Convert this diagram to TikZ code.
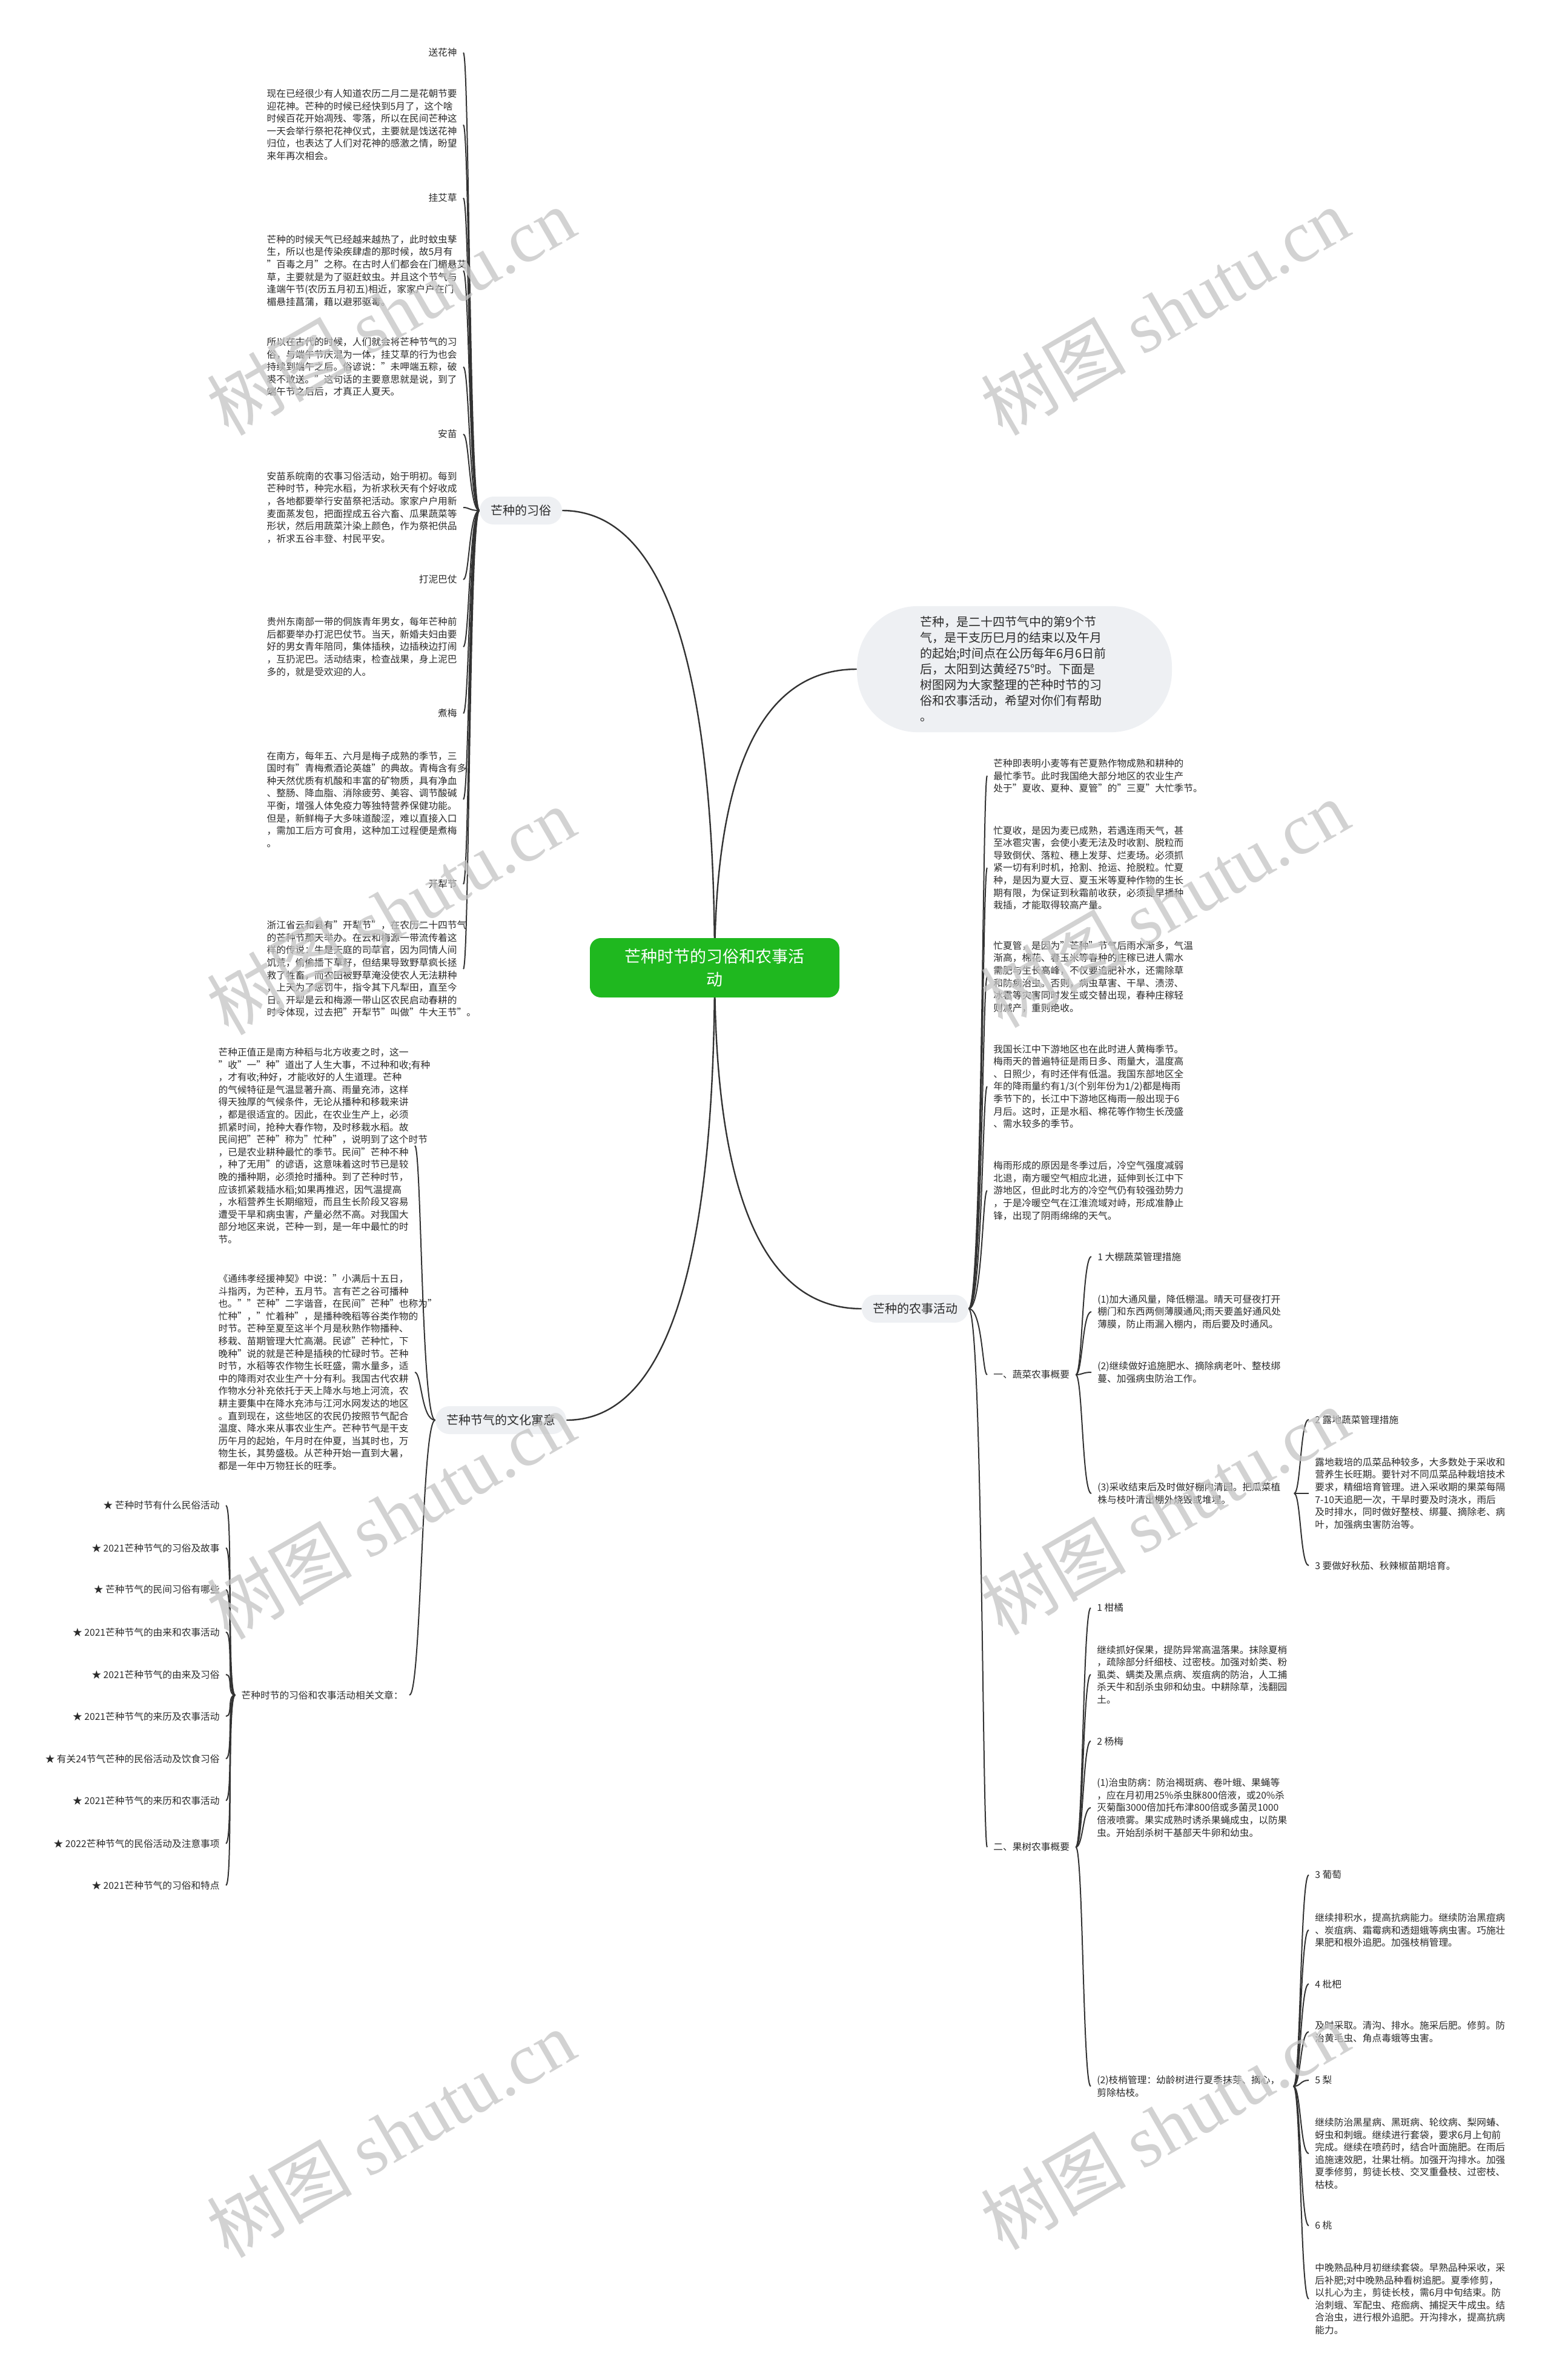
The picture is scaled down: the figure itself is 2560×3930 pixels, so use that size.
\documentclass[tikz,border=0pt]{standalone}
\usepackage{fontspec}
\setmainfont{Noto Sans CJK SC}
\newfontfamily\wmserif{Liberation Serif}
\definecolor{linec}{HTML}{333333}
\definecolor{textc}{HTML}{2B2B2B}
\definecolor{pillc}{HTML}{EEF0F3}
\definecolor{rootc}{HTML}{1FB81F}
\definecolor{wmc}{HTML}{C4C4C4}
\pgfdeclarelayer{bg}
\pgfsetlayers{bg,main}
\newcommand\fs{\fontsize{7.85pt}{10.3pt}\selectfont}
\newcommand\cn[4]{\draw[conn] (#1) .. controls +(#3,0) and +(#4,0) .. (#2);}
\tikzset{
  conn/.style={draw=linec, line width=1pt},
  rootconn/.style={draw=linec, line width=1.2pt},
  body/.style={font=\fs, text=textc, align=left, inner xsep=5pt, inner ysep=0pt, text width=157pt},
  lab/.style={font=\fs, text=textc, align=left, inner xsep=5pt, inner ysep=0pt},
  pill/.style={fill=pillc, rounded corners=11.5pt, minimum height=23pt, inner xsep=9pt, inner ysep=0pt, font=\fontsize{10pt}{12pt}\selectfont, text=textc},
  wm/.style={text=wmc, opacity=0.75, rotate=30, inner sep=0pt, font=\fontsize{60pt}{60pt}\selectfont},
}
\begin{document}
\begin{tikzpicture}[x=0.5pt,y=-0.5pt]
\useasboundingbox (0,0) rectangle (2560,3930);

% root
\node[fill=rootc, rounded corners=9pt, minimum width=206pt, minimum height=49pt, text=white, align=center, inner sep=0pt, font=\fontsize{13.5pt}{19pt}\selectfont] (root) at (1180,1598) {芒种时节的习俗和农事活\\动};

% intro bubble
\node[fill=pillc, rounded corners=50pt, text width=156pt, inner xsep=52pt, inner ysep=8.5pt, align=left, text=textc, font=\fontsize{10pt}{13pt}\selectfont] (bub) at (1675,1105) {芒种，是二十四节气中的第9个节\\气，是干支历巳月的结束以及午月\\的起始;时间点在公历每年6月6日前\\后，太阳到达黄经75°时。下面是\\树图网为大家整理的芒种时节的习\\俗和农事活动，希望对你们有帮助\\。};

% ===== left: 芒种的习俗 =====
\node[pill] (m1) at (860,843) {芒种的习俗};
\node[lab, anchor=east] (l1) at (765,87) {送花神};
\node[body, anchor=east] (t1) at (765,206) {现在已经很少有人知道农历二月二是花朝节要\\迎花神。芒种的时候已经快到5月了，这个啥\\时候百花开始凋残、零落，所以在民间芒种这\\一天会举行祭祀花神仪式，主要就是饯送花神\\归位，也表达了人们对花神的感激之情，盼望\\来年再次相会。};
\node[lab, anchor=east] (l2) at (765,327) {挂艾草};
\node[body, anchor=east] (t2) at (765,447) {芒种的时候天气已经越来越热了，此时蚊虫孳\\生，所以也是传染疾肆虐的那时候，故5月有\\"百毒之月"之称。在古时人们都会在门楣悬艾\\草，主要就是为了驱赶蚊虫。并且这个节气与\\逢端午节(农历五月初五)相近，家家户户在门\\楣悬挂菖蒲，藉以避邪驱毒。};
\node[body, anchor=east] (t3) at (765,606) {所以在古代的时候，人们就会将芒种节气的习\\俗，与端午节庆混为一体，挂艾草的行为也会\\持续到端午之后。俗谚说："未呷端五粽，破\\裘不敢送。"这句话的主要意思就是说，到了\\端午节之后后，才真正人夏天。};
\node[lab, anchor=east] (l3) at (765,717) {安苗};
\node[body, anchor=east] (t4) at (765,838) {安苗系皖南的农事习俗活动，始于明初。每到\\芒种时节，种完水稻，为祈求秋天有个好收成\\，各地都要举行安苗祭祀活动。家家户户用新\\麦面蒸发包，把面捏成五谷六畜、瓜果蔬菜等\\形状，然后用蔬菜汁染上颜色，作为祭祀供品\\，祈求五谷丰登、村民平安。};
\node[lab, anchor=east] (l4) at (765,957) {打泥巴仗};
\node[body, anchor=east] (t5) at (765,1068) {贵州东南部一带的侗族青年男女，每年芒种前\\后都要举办打泥巴仗节。当天，新婚夫妇由要\\好的男女青年陪同，集体插秧，边插秧边打闹\\，互扔泥巴。活动结束，检查战果，身上泥巴\\多的，就是受欢迎的人。};
\node[lab, anchor=east] (l5) at (765,1178) {煮梅};
\node[body, anchor=east] (t6) at (765,1320) {在南方，每年五、六月是梅子成熟的季节，三\\国时有"青梅煮酒论英雄"的典故。青梅含有多\\种天然优质有机酸和丰富的矿物质，具有净血\\、整肠、降血脂、消除疲劳、美容、调节酸碱\\平衡，增强人体免疫力等独特营养保健功能。\\但是，新鲜梅子大多味道酸涩，难以直接入口\\，需加工后方可食用，这种加工过程便是煮梅\\。};
\node[lab, anchor=east] (l6) at (765,1460) {开犁节};
\node[body, anchor=east] (t7) at (765,1600) {浙江省云和县有"开犁节"，在农历二十四节气\\的芒种节那天举办。在云和梅源一带流传着这\\样的传说：牛是天庭的司草官，因为同情人间\\饥荒，偷偷播下草籽，但结果导致野草疯长拯\\救了牲畜，而农田被野草淹没使农人无法耕种\\，上天为了惩罚牛，指令其下凡犁田，直至今\\日。开犁是云和梅源一带山区农民启动春耕的\\时令体现，过去把"开犁节"叫做"牛大王节"。};

% ===== left: 芒种节气的文化寓意 =====
\node[pill] (m3) at (827,2345) {芒种节气的文化寓意};
\node[body, anchor=east] (a1) at (685,1892) {芒种正值正是南方种稻与北方收麦之时，这一\\"收"一"种"道出了人生大事，不过种和收;有种\\，才有收;种好，才能收好的人生道理。芒种\\的气候特征是气温显著升高、雨量充沛，这样\\得天独厚的气候条件，无论从播种和移栽来讲\\，都是很适宜的。因此，在农业生产上，必须\\抓紧时间，抢种大春作物，及时移栽水稻。故\\民间把"芒种"称为"忙种"，说明到了这个时节\\，已是农业耕种最忙的季节。民间"芒种不种\\，种了无用"的谚语，这意味着这时节已是较\\晚的播种期，必须抢时播种。到了芒种时节，\\应该抓紧栽插水稻;如果再推迟，因气温提高\\，水稻营养生长期缩短，而且生长阶段又容易\\遭受干旱和病虫害，产量必然不高。对我国大\\部分地区来说，芒种一到，是一年中最忙的时\\节。};
\node[body, anchor=east] (a2) at (685,2266) {《通纬孝经援神契》中说："小满后十五日，\\斗指丙，为芒种，五月节。言有芒之谷可播种\\也。""芒种"二字谐音，在民间"芒种"也称为"\\忙种"，"忙着种"，是播种晚稻等谷类作物的\\时节。芒种至夏至这半个月是秋熟作物播种、\\移栽、苗期管理大忙高潮。民谚"芒种忙，下\\晚种"说的就是芒种是插秧的忙碌时节。芒种\\时节，水稻等农作物生长旺盛，需水量多，适\\中的降雨对农业生产十分有利。我国古代农耕\\作物水分补充依托于天上降水与地上河流，农\\耕主要集中在降水充沛与江河水网发达的地区\\。直到现在，这些地区的农民仍按照节气配合\\温度、降水来从事农业生产。芒种节气是干支\\历午月的起始，午月时在仲夏，当其时也，万\\物生长，其势盛极。从芒种开始一直到大暑，\\都是一年中万物狂长的旺季。};
\node[lab, anchor=east] (a3) at (676,2799) {芒种时节的习俗和农事活动相关文章：};
\node[lab, anchor=east] (s1) at (373,2486) {★ 芒种时节有什么民俗活动};
\node[lab, anchor=east] (s2) at (373,2556) {★ 2021芒种节气的习俗及故事};
\node[lab, anchor=east] (s3) at (373,2625) {★ 芒种节气的民间习俗有哪些};
\node[lab, anchor=east] (s4) at (373,2695) {★ 2021芒种节气的由来和农事活动};
\node[lab, anchor=east] (s5) at (373,2765) {★ 2021芒种节气的由来及习俗};
\node[lab, anchor=east] (s6) at (373,2834) {★ 2021芒种节气的来历及农事活动};
\node[lab, anchor=east] (s7) at (373,2904) {★ 有关24节气芒种的民俗活动及饮食习俗};
\node[lab, anchor=east] (s8) at (373,2973) {★ 2021芒种节气的来历和农事活动};
\node[lab, anchor=east] (s9) at (373,3044) {★ 2022芒种节气的民俗活动及注意事项};
\node[lab, anchor=east] (s10) at (373,3113) {★ 2021芒种节气的习俗和特点};

% ===== right: 芒种的农事活动 =====
\node[pill] (m4) at (1511,2161) {芒种的农事活动};
\node[body, anchor=west] (r1) at (1630,1281) {芒种即表明小麦等有芒夏熟作物成熟和耕种的\\最忙季节。此时我国绝大部分地区的农业生产\\处于"夏收、夏种、夏管"的"三夏"大忙季节。};
\node[body, anchor=west] (r2) at (1630,1433) {忙夏收，是因为麦已成熟，若遇连雨天气，甚\\至冰雹灾害，会使小麦无法及时收割、脱粒而\\导致倒伏、落粒、穗上发芽、烂麦场。必须抓\\紧一切有利时机，抢割、抢运、抢脱粒。忙夏\\种，是因为夏大豆、夏玉米等夏种作物的生长\\期有限，为保证到秋霜前收获，必须提早播种\\栽插，才能取得较高产量。};
\node[body, anchor=west] (r3) at (1630,1613) {忙夏管，是因为"芒种"节气后雨水渐多，气温\\渐高，棉花、春玉米等春种的庄稼已进人需水\\需肥与生长高峰，不仅要追肥补水，还需除草\\和防病治虫。否则，病虫草害、干旱、渍涝、\\冰雹等灾害同时发生或交替出现，春种庄稼轻\\则减产，重则绝收。};
\node[body, anchor=west] (r4) at (1630,1794) {我国长江中下游地区也在此时进人黄梅季节。\\梅雨天的普遍特征是雨日多、雨量大，温度高\\、日照少，有时还伴有低温。我国东部地区全\\年的降雨量约有1/3(个别年份为1/2)都是梅雨\\季节下的，长江中下游地区梅雨一般出现于6\\月后。这时，正是水稻、棉花等作物生长茂盛\\、需水较多的季节。};
\node[body, anchor=west] (r5) at (1630,1966) {梅雨形成的原因是冬季过后，冷空气强度减弱\\北退，南方暖空气相应北进，延伸到长江中下\\游地区，但此时北方的冷空气仍有较强劲势力\\，于是冷暖空气在江淮流域对峙，形成准静止\\锋，出现了阴雨绵绵的天气。};
\node[lab, anchor=west] (v0) at (1630,2270) {一、蔬菜农事概要};
\node[lab, anchor=west] (f0) at (1630,3050) {二、果树农事概要};

% vegetables
\node[lab, anchor=west] (v1) at (1802,2075) {1 大棚蔬菜管理措施};
\node[body, anchor=west] (v2) at (1802,2166) {(1)加大通风量，降低棚温。晴天可昼夜打开\\棚门和东西两侧薄膜通风;雨天要盖好通风处\\薄膜，防止雨漏入棚内，雨后要及时通风。};
\node[body, anchor=west] (v3) at (1802,2266) {(2)继续做好追施肥水、摘除病老叶、整枝绑\\蔓、加强病虫防治工作。};
\node[body, anchor=west] (v4) at (1802,2466) {(3)采收结束后及时做好棚内清园。把瓜菜植\\株与枝叶清出棚外烧毁或堆埋。};
\node[lab, anchor=west] (v5) at (2161,2344) {2 露地蔬菜管理措施};
\node[body, anchor=west] (v6) at (2161,2466) {露地栽培的瓜菜品种较多，大多数处于采收和\\营养生长旺期。要针对不同瓜菜品种栽培技术\\要求，精细培育管理。进入采收期的果菜每隔\\7-10天追肥一次，干旱时要及时浇水，雨后\\及时排水，同时做好整枝、绑蔓、摘除老、病\\叶，加强病虫害防治等。};
\node[lab, anchor=west] (v7) at (2161,2585) {3 要做好秋茄、秋辣椒苗期培育。};

% fruit trees
\node[lab, anchor=west] (f1) at (1801,2655) {1 柑橘};
\node[body, anchor=west] (f2) at (1801,2765) {继续抓好保果，提防异常高温落果。抹除夏梢\\，疏除部分纤细枝、过密枝。加强对蚧类、粉\\虱类、螨类及黑点病、炭疽病的防治，人工捕\\杀天牛和刮杀虫卵和幼虫。中耕除草，浅翻园\\土。};
\node[lab, anchor=west] (f3) at (1801,2875) {2 杨梅};
\node[body, anchor=west] (f4) at (1801,2985) {(1)治虫防病：防治褐斑病、卷叶蛾、果蝇等\\，应在月初用25\%杀虫脒800倍液，或20\%杀\\灭菊酯3000倍加托布津800倍或多菌灵1000\\倍液喷雾。果实成熟时诱杀果蝇成虫，以防果\\虫。开始刮杀树干基部天牛卵和幼虫。};
\node[body, anchor=west] (f5) at (1801,3445) {(2)枝梢管理：幼龄树进行夏季抹芽、摘心，\\剪除枯枝。};
\node[lab, anchor=west] (g1) at (2161,3096) {3 葡萄};
\node[body, anchor=west] (g2) at (2161,3187) {继续排积水，提高抗病能力。继续防治黑痘病\\、炭疽病、霜霉病和透翅蛾等病虫害。巧施壮\\果肥和根外追肥。加强枝梢管理。};
\node[lab, anchor=west] (g3) at (2161,3276) {4 枇杷};
\node[body, anchor=west] (g4) at (2161,3355) {及时采取。清沟、排水。施采后肥。修剪。防\\治黄毛虫、角点毒蛾等虫害。};
\node[lab, anchor=west] (g5) at (2161,3435) {5 梨};
\node[body, anchor=west] (g6) at (2161,3556) {继续防治黑星病、黑斑病、轮纹病、梨网蝽、\\蚜虫和刺蛾。继续进行套袋，要求6月上旬前\\完成。继续在喷药时，结合叶面施肥。在雨后\\追施速效肥，壮果壮梢。加强开沟排水。加强\\夏季修剪，剪徒长枝、交叉重叠枝、过密枝、\\枯枝。};
\node[lab, anchor=west] (g7) at (2161,3675) {6 桃};
\node[body, anchor=west] (g8) at (2161,3796) {中晚熟品种月初继续套袋。早熟品种采收，采\\后补肥;对中晚熟品种看树追肥。夏季修剪，\\以扎心为主，剪徒长枝，需6月中旬结束。防\\治刺蛾、军配虫、疮痂病、捕捉天牛成虫。结\\合治虫，进行根外追肥。开沟排水，提高抗病\\能力。};

% ===== connectors =====
\begin{pgfonlayer}{bg}
\fill[white] (0,0) rectangle (2560,3930);
\draw[rootconn] (root.center) .. controls +(0,-503) and +(168,0) .. (m1.east);
\draw[rootconn] (root.center) .. controls +(0,498) and +(163,0) .. (m3.east);
\draw[rootconn] (root.center) .. controls +(0,-329) and +(-156,0) .. (bub.west);
\draw[rootconn] (root.center) .. controls +(0,375) and +(-162,0) .. (m4.west);
\foreach \c in {l1,t1,l2,t2,t3,l3,t4,l4,t5,l5,t6,l6,t7}{\cn{m1.west}{\c.east}{-17}{10}}
\cn{m3.west}{a1.east}{-23}{11}
\cn{m3.west}{a2.east}{-23}{11}
\cn{m3.west}{a3.east}{-23}{20}
\foreach \c in {s1,s2,s3,s4,s5,s6,s7,s8,s9,s10}{\cn{a3.west}{\c.east}{-14}{12}}
\foreach \c in {r1,r2,r3,r4,r5,v0,f0}{\cn{m4.east}{\c.west}{23}{-8}}
\foreach \c in {v1,v2,v3,v4}{\cn{v0.east}{\c.west}{11}{-15}}
\foreach \c in {v5,v6,v7}{\cn{v4.east}{\c.west}{11}{-14}}
\foreach \c in {f1,f2,f3,f4,f5}{\cn{f0.east}{\c.west}{12}{-13}}
\foreach \c in {g1,g2,g3,g4,g5,g6,g7,g8}{\cn{f5.east}{\c.west}{12}{-14}}
\end{pgfonlayer}

% ===== watermarks =====
\node[wm] (w1) at (645,514) {树图 {\wmserif shutu.cn}};
\node[wm] (w2) at (1923,514) {树图 {\wmserif shutu.cn}};
\node[wm] (w3) at (645,1504) {树图 {\wmserif shutu.cn}};
\node[wm] (w4) at (1923,1492) {树图 {\wmserif shutu.cn}};
\node[wm] (w5) at (645,2502) {树图 {\wmserif shutu.cn}};
\node[wm] (w6) at (1923,2495) {树图 {\wmserif shutu.cn}};
\node[wm] (w7) at (645,3523) {树图 {\wmserif shutu.cn}};
\node[wm] (w8) at (1923,3510) {树图 {\wmserif shutu.cn}};
\end{tikzpicture}
\end{document}
